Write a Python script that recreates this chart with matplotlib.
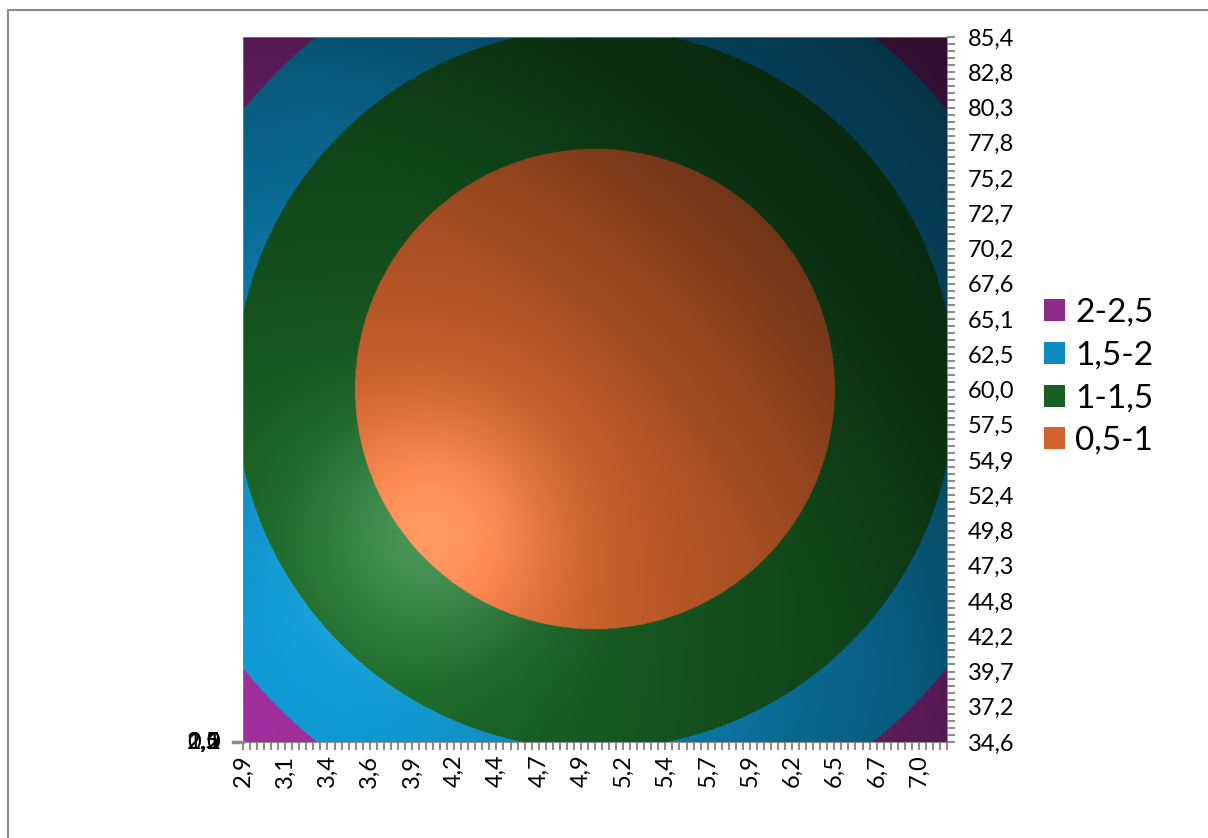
import numpy as np
import matplotlib.pyplot as plt
from matplotlib.patches import Patch
from matplotlib.lines import Line2D
from matplotlib.colors import to_rgb

plt.rcParams['font.family'] = ['Lato', 'DejaVu Sans']

# category (x) and series (y) axes
x_labels = ['2,9', '3,1', '3,4', '3,6', '3,9', '4,2', '4,4', '4,7', '4,9',
            '5,2', '5,4', '5,7', '5,9', '6,2', '6,5', '6,7', '7,0']
y_labels = ['34,6', '37,2', '39,7', '42,2', '44,8', '47,3', '49,8', '52,4',
            '54,9', '57,5', '60,0', '62,5', '65,1', '67,6', '70,2', '72,7',
            '75,2', '77,8', '80,3', '82,8', '85,4']
x_first, x_last, n_x = 2.878, 7.136, 101
y_first, y_last, n_y = 34.62, 85.38, 101

# bowl-shaped surface, lowest in the middle
z_floor = 0.6
x_centre, y_centre = 5.007, 60.0
x_scale, y_scale = 2.296, 27.32

levels = [0.5, 1.0, 1.5, 2.0, 2.5]
band_labels = ['0,5-1', '1-1,5', '1,5-2', '2-2,5']
band_colors = ['#D2632C', '#175F23', '#0D8BC0', '#8E2A8A']
value_labels = ['0', '0,5', '1', '1,5', '2', '2,5']

fig = plt.figure(figsize=(12.08, 8.38), dpi=100)
ax = fig.add_axes([243 / 1208, 96 / 838, 704 / 1208, 705 / 838])

xs = np.linspace(x_first, x_last, 1200)
ys = np.linspace(y_first, y_last, 1200)
X, Y = np.meshgrid(xs, ys)
Z = z_floor + ((X - x_centre) / x_scale) ** 2 + ((Y - y_centre) / y_scale) ** 2

band = np.clip(np.digitize(Z, levels) - 1, 0, len(band_colors) - 1)
base = np.array([to_rgb(c) for c in band_colors])[band]

# lighting: bright lower-left, dark upper-right, soft highlight
u = (X - x_first) / (x_last - x_first)
v = (Y - y_first) / (y_last - y_first)
t = (u + v) / 2
w = u - v
light = np.interp(t, [0, 0.27, 0.5, 0.75, 1.0], [1.13, 1.0, 0.85, 0.52, 0.33])
light = light * (1 - 0.3 * w ** 2)
glow = np.exp(-((u - 0.27) ** 2 + (v - 0.3) ** 2) / (2 * 0.12 ** 2))
rgb = base * (light + 0.3 * glow)[..., None]
rgb = rgb + 0.2 * glow[..., None] * (1 - np.clip(rgb, 0, 1))
rgb = np.clip(rgb, 0, 1)

ax.imshow(rgb, extent=[x_first, x_last, y_first, y_last], origin='lower',
          aspect='auto', interpolation='antialiased')

x_cats = np.linspace(x_first, x_last, n_x)
y_series = np.linspace(y_first, y_last, n_y)
ax.set_xlim(x_first, x_last)
ax.set_ylim(y_first, y_last)
ax.set_xticks(x_cats[::6])
ax.set_xticklabels(x_labels, rotation=90)
ax.set_xticks(x_cats, minor=True)
ax.set_yticks(y_series[::5])
ax.set_yticklabels(y_labels)
ax.set_yticks(y_series, minor=True)
ax.yaxis.tick_right()
ax.tick_params(axis='both', which='both', color='#8c8c8c', width=1.5,
               length=6, direction='out')
ax.tick_params(axis='x', labelsize=17, pad=3)
ax.tick_params(axis='y', labelsize=17, pad=9)
for s in ax.spines.values():
    s.set_color('#808080')
    s.set_linewidth(0.6)

# collapsed value axis in the corner
for lab in value_labels:
    ax.text(-23 / 704, 0, lab, transform=ax.transAxes, ha='right',
            va='center', fontsize=17)
ax.plot([-10 / 704, 0], [0, 0], transform=ax.transAxes, color='#8c8c8c',
        lw=2.5, clip_on=False)

handles = [Patch(facecolor=c, edgecolor='none') for c in band_colors]
fig.legend(handles[::-1], band_labels[::-1], loc='center left',
           bbox_to_anchor=(1044 / 1208, 1 - 377 / 838), frameon=False,
           fontsize=24, handlelength=0.64, handleheight=0.64,
           handletextpad=0.3, labelspacing=0.38, borderpad=0,
           borderaxespad=0)

# chart border
fig.add_artist(Line2D([8 / 1208, 8 / 1208], [0, 1 - 10 / 838],
                      transform=fig.transFigure, color='#8a8a8a', lw=1.5))
fig.add_artist(Line2D([8 / 1208, 1], [1 - 10 / 838, 1 - 10 / 838],
                      transform=fig.transFigure, color='#8a8a8a', lw=1.5))

fig.savefig('out.png', dpi=100)
